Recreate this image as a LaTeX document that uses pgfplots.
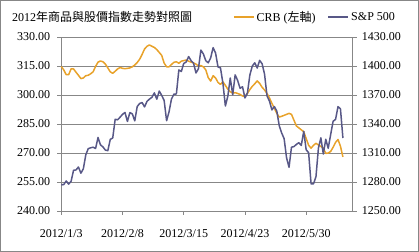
\documentclass[border=0pt]{standalone}
\usepackage{pgfplots}
\pgfplotsset{compat=1.18}
\usepackage{fontspec}
\setmainfont{Liberation Serif}
\newfontfamily\cjk{Noto Sans CJK TC}
\definecolor{crbc}{RGB}{232,162,42}
\definecolor{spxc}{RGB}{88,88,135}
\definecolor{gridc}{RGB}{135,135,135}
\begin{document}
\fontsize{12bp}{14bp}\selectfont
\begin{tikzpicture}[x=1bp,y=1bp]
\draw[gridc, line width=1bp] (0.5,0.5) rectangle (418.5,251.5);
\node[anchor=west, inner sep=0pt] at (12,235) {2012{\cjk 年商品與股價指數走勢對照圖}};
\begin{axis}[
  at={(61.3bp,41bp)}, anchor=south west,
  scale only axis, width=291.4bp, height=174bp,
  xmin=0, xmax=119, ymin=240, ymax=330,
  ytick={240,255,270,285,300,315,330},
  xtick={0,25,50,75,100},
  xticklabels={2012/1/3,2012/2/8,2012/3/15,2012/4/23,2012/5/30},
  ymajorgrids, grid style={gridc, line width=0.7bp},
  axis x line*=bottom, axis y line*=left,
  axis line style={gridc, line width=0.8bp},
  tick style={gridc, line width=0.7bp},
  major tick length=4bp, tick align=outside,
  /pgf/number format/assume math mode=true,
  yticklabel={\pgfmathprintnumber[fixed,fixed zerofill,precision=2,1000 sep={}]{\tick}},
  yticklabel style={font=\fontsize{12bp}{14bp}\selectfont, inner sep=0pt, xshift=-7bp},
  xticklabel style={font=\fontsize{12bp}{14bp}\selectfont, inner sep=0pt, yshift=-14.5bp},
  clip=false,
]
\addplot[crbc, line width=1.5bp, line join=round] coordinates {
(0,314.7)(1,313.0)(2,310.5)(3,310.5)(4,313.5)(5,313.5)(6,311.8)(7,310.2)(8,308.5)(9,308.8)
(10,310.0)(11,310.2)(12,311.0)(13,312.0)(14,314.8)(15,317.0)(16,317.6)(17,317.2)(18,316.0)(19,314.0)
(20,312.0)(21,311.2)(22,312.3)(23,313.5)(24,314.2)(25,313.8)(26,313.6)(27,313.8)(28,314.0)(29,314.6)
(30,315.5)(31,316.8)(32,318.5)(33,321.0)(34,323.8)(35,325.2)(36,325.9)(37,325.2)(38,324.6)(39,323.5)
(40,322.0)(41,320.5)(42,316.5)(43,314.6)(44,314.6)(45,315.8)(46,316.9)(47,317.2)(48,316.4)(49,317.5)
(50,317.8)(51,318.1)(52,317.5)(53,317.0)(54,316.6)(55,316.0)(56,315.0)(57,315.2)(58,314.6)(59,313.0)
(60,309.0)(61,307.2)(62,310.0)(63,308.8)(64,306.5)(65,305.5)(66,306.8)(67,305.0)(68,303.0)(69,301.7)
(70,301.0)(71,301.2)(72,300.8)(73,300.3)(74,299.5)(75,299.2)(76,300.8)(77,302.8)(78,304.5)(79,305.8)
(80,307.3)(81,306.0)(82,304.0)(83,302.6)(84,300.8)(85,298.5)(86,295.7)(87,293.2)(88,290.5)(89,288.6)
(90,289.0)(91,289.5)(92,290.0)(93,290.5)(94,290.0)(95,287.0)(96,284.0)(97,283.0)(98,282.0)(99,281.0)
(100,277.5)(101,274.0)(102,272.5)(103,274.0)(104,275.0)(105,274.2)(106,273.4)(107,272.5)(108,269.8)(109,270.0)
(110,270.8)(111,273.0)(112,275.5)(113,277.0)(114,273.5)(115,268.0)
};
\end{axis}
\begin{axis}[
  at={(61.3bp,41bp)}, anchor=south west,
  scale only axis, width=291.4bp, height=174bp,
  xmin=0, xmax=119, ymin=1250, ymax=1430,
  ytick={1250,1280,1310,1340,1370,1400,1430},
  axis x line=none, axis y line*=right,
  axis line style={gridc, line width=0.8bp},
  tick style={gridc, line width=0.7bp},
  major tick length=4bp, tick align=outside,
  /pgf/number format/assume math mode=true,
  yticklabel={\pgfmathprintnumber[fixed,fixed zerofill,precision=2,1000 sep={}]{\tick}},
  yticklabel style={font=\fontsize{12bp}{14bp}\selectfont, inner sep=0pt, xshift=5bp},
  clip=false,
  legend style={at={(axis description cs:0.589,1.115)}, anchor=west, draw=none, fill=none,
    inner sep=0pt, legend columns=2, font=\fontsize{12bp}{14bp}\selectfont,
    /tikz/every even column/.append style={column sep=10bp},
    nodes={inner sep=2bp}},
  legend image code/.code={\draw[#1] (0bp,0bp) -- (20bp,0bp);},
]
\addlegendimage{crbc, line width=1.6bp}
\addlegendentry{CRB ({\cjk 左軸})}
\addplot[spxc, line width=1.5bp, line join=round] coordinates {
(0,1277.06)(1,1277.30)(2,1281.06)(3,1277.81)(4,1280.70)(5,1292.08)(6,1292.48)(7,1295.50)(8,1289.09)(9,1293.67)
(10,1308.04)(11,1314.50)(12,1315.38)(13,1316.00)(14,1314.65)(15,1326.06)(16,1318.43)(17,1316.33)(18,1313.01)(19,1312.41)
(20,1324.09)(21,1325.54)(22,1344.90)(23,1344.33)(24,1347.05)(25,1349.96)(26,1351.95)(27,1342.64)(28,1351.77)(29,1350.50)
(30,1343.23)(31,1358.04)(32,1361.23)(33,1362.21)(34,1357.66)(35,1363.46)(36,1365.74)(37,1367.59)(38,1372.18)(39,1365.68)
(40,1374.09)(41,1369.63)(42,1364.33)(43,1343.36)(44,1352.63)(45,1365.91)(46,1370.87)(47,1371.09)(48,1395.95)(49,1394.28)
(50,1402.60)(51,1404.17)(52,1409.75)(53,1405.52)(54,1402.89)(55,1392.78)(56,1397.11)(57,1416.51)(58,1412.52)(59,1405.54)
(60,1403.28)(61,1408.47)(62,1419.04)(63,1413.38)(64,1398.96)(65,1398.08)(66,1382.20)(67,1358.59)(68,1368.71)(69,1387.57)
(70,1370.26)(71,1390.78)(72,1385.14)(73,1376.92)(74,1378.53)(75,1366.94)(76,1371.97)(77,1390.69)(78,1399.98)(79,1403.36)
(80,1397.91)(81,1405.82)(82,1402.31)(83,1391.57)(84,1369.10)(85,1363.72)(86,1354.58)(87,1357.99)(88,1353.39)(89,1338.35)
(90,1330.66)(91,1324.80)(92,1304.86)(93,1295.22)(94,1315.99)(95,1316.63)(96,1318.86)(97,1320.68)(98,1317.82)(99,1332.42)
(100,1313.32)(101,1310.33)(102,1278.04)(103,1278.18)(104,1285.50)(105,1315.13)(106,1325.66)(107,1308.93)(108,1324.18)(109,1314.88)
(110,1329.10)(111,1342.84)(112,1344.78)(113,1357.98)(114,1355.69)(115,1325.51)
};
\addlegendentry{S\&P 500}
\end{axis}
\end{tikzpicture}
\end{document}
